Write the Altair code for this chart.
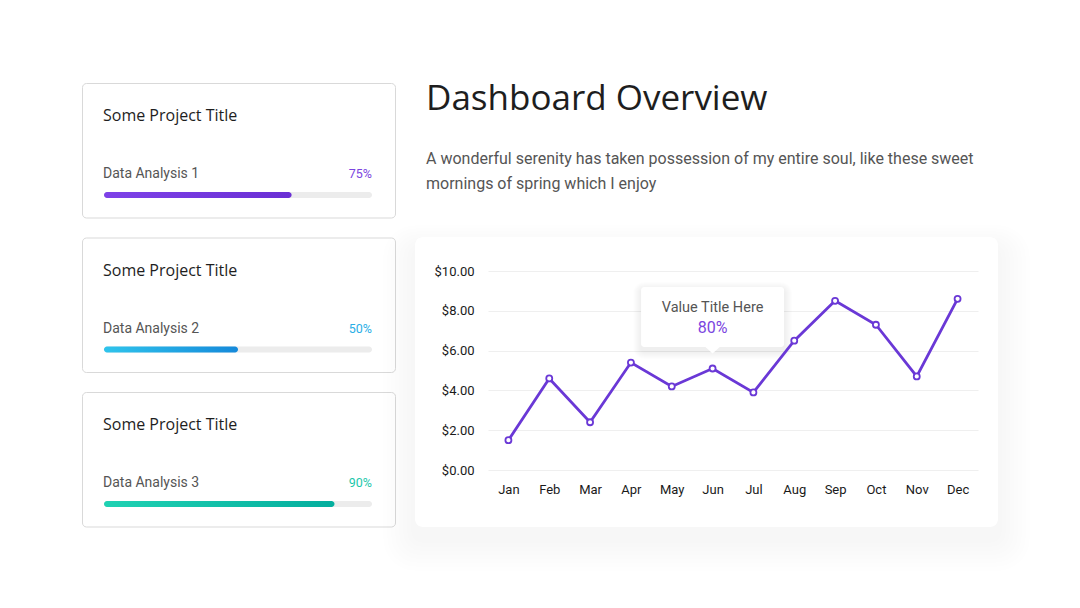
import altair as alt
import pandas as pd

# ---------------- data ----------------
months = ["Jan", "Feb", "Mar", "Apr", "May", "Jun", "Jul", "Aug", "Sep", "Oct", "Nov", "Dec"]
values = [1.5, 4.6, 2.4, 5.4, 4.2, 5.1, 3.9, 6.5, 8.5, 7.3, 4.7, 8.6]
y_tick_values = [0, 2, 4, 6, 8, 10]

card_titles = ["Some Project Title", "Some Project Title", "Some Project Title"]
card_labels = ["Data Analysis 1", "Data Analysis 2", "Data Analysis 3"]
card_pct_labels = ["75%", "50%", "90%"]
card_bar_values = [70, 50, 86]
card_text_colors = ["#7b45e0", "#2aaee6", "#1cc7ab"]
card_grad_start = ["#7e42e8", "#2fc4ec", "#20d2b3"]
card_grad_end = ["#6a2fd4", "#1589da", "#04ae9e"]

title_text = "Dashboard Overview"
subtitle_lines = [
    "A wonderful serenity has taken possession of my entire soul, like these sweet",
    "mornings of spring which I enjoy",
]
tooltip_month = ["Jun"]
tooltip_top = [9.2]
tooltip_bottom = [6.18]
tooltip_title = ["Value Title Here"]
tooltip_title_y = [7.92]
tooltip_value = ["80%"]
tooltip_value_y = [6.87]

PURPLE = "#6a38d6"
ONE = pd.DataFrame({"k": [0]})


def rect_value(x, x2, y, y2, **mk):
    return alt.Chart(ONE).mark_rect(**mk).encode(
        x=alt.value(x), x2=alt.value(x2), y=alt.value(y), y2=alt.value(y2)
    )


# ---------------- cards (one layered chart) ----------------
CARD_W, CARD_H, CARD_GAP = 314, 135.5, 19
xscale = alt.Scale(domain=[0, 100], range=[22, 290])


def card_layers(i):
    oy = i * (CARD_H + CARD_GAP)
    df = pd.DataFrame({
        "title": [card_titles[i]],
        "label": [card_labels[i]],
        "pct": [card_pct_labels[i]],
        "start": [0],
        "full": [100],
        "value": [card_bar_values[i]],
    })
    base = alt.Chart(df)
    box = rect_value(0.5, CARD_W - 0.5, oy + 0.5, oy + CARD_H - 0.5, fill="white",
                     stroke="#d9d9d9", strokeWidth=1, cornerRadius=4)
    title = base.mark_text(align="left", baseline="alphabetic", font="Open Sans",
                           fontSize=16, color="#1e1e1e").encode(
        x=alt.value(21), y=alt.value(oy + 38), text="title:N")
    label = base.mark_text(align="left", baseline="alphabetic", font="Roboto",
                           fontSize=14, color="#555555").encode(
        x=alt.value(21), y=alt.value(oy + 95), text="label:N")
    pct = base.mark_text(align="right", baseline="alphabetic", font="Roboto",
                         fontSize=12.5, color=card_text_colors[i]).encode(
        x=alt.value(290), y=alt.value(oy + 95), text="pct:N")
    track = base.mark_rect(color="#ececec", cornerRadius=3).encode(
        x=alt.X("start:Q", scale=xscale, axis=None), x2="full:Q",
        y=alt.value(oy + 109), y2=alt.value(oy + 115))
    grad = {
        "gradient": "linear", "x1": 0, "x2": 1, "y1": 0, "y2": 0,
        "stops": [{"offset": 0, "color": card_grad_start[i]},
                  {"offset": 1, "color": card_grad_end[i]}],
    }
    bar = base.mark_rect(cornerRadius=3, fill=grad).encode(
        x=alt.X("start:Q", scale=xscale, axis=None), x2="value:Q",
        y=alt.value(oy + 109), y2=alt.value(oy + 115))
    return [box, title, label, pct, track, bar]


backdrop = rect_value(-82, 998, -83, 525, fill="white")  # page extent
left_layers = [backdrop]
for i in range(3):
    left_layers += card_layers(i)
left = alt.layer(*left_layers).properties(
    width=CARD_W, height=3 * CARD_H + 2 * CARD_GAP)

# ---------------- header (above chart) ----------------
shadow = [
    rect_value(-73 - 4 * i, 510 + 4 * i, 154 - 3 * i + 12, 444 + 4 * i + 12,
               fill="black", opacity=0.0025, cornerRadius=8 + 3 * i)
    for i in range(1, 9)
]
panel = rect_value(-73, 510, 154, 444, fill="white", cornerRadius=8)
head_title = alt.Chart(ONE).mark_text(
    text=title_text, align="left", baseline="alphabetic", font="Open Sans",
    fontSize=35, color="#1e1e1e").encode(x=alt.value(-62), y=alt.value(27))
head_sub = alt.Chart(ONE).mark_text(
    text=subtitle_lines, align="left", baseline="alphabetic", font="Roboto",
    fontSize=16, lineHeight=25, color="#555555").encode(
    x=alt.value(-62), y=alt.value(81))
header = alt.layer(*shadow, panel, head_title, head_sub).properties(
    width=490, height=168)

# ---------------- line chart ----------------
df = pd.DataFrame({"month": months, "value": values})
tt = pd.DataFrame({
    "month": tooltip_month, "top": tooltip_top, "bottom": tooltip_bottom,
    "title": tooltip_title, "title_y": tooltip_title_y,
    "val": tooltip_value, "val_y": tooltip_value_y,
})

x_axis = alt.Axis(labelAngle=0, labelAlign="center", ticks=False, domain=False,
                  grid=False, labelFont="Roboto", labelFontSize=13,
                  labelColor="#1a1a1a", labelPadding=13, labelOverlap=False)
y_axis = alt.Axis(values=y_tick_values, format="$.2f", ticks=False, domain=False,
                  grid=True, gridColor="#efefef", labelFont="Roboto",
                  labelFontSize=13, labelColor="#1a1a1a", labelPadding=14,
                  labelAlign="right", labelOverlap=False)
x_scale = alt.Scale(type="point", domain=months, padding=0.5)
y_scale = alt.Scale(domain=[0, 10], nice=False)


def X(field):
    return alt.X(f"{field}:N", title="", scale=x_scale, axis=x_axis)


def Y(field):
    return alt.Y(f"{field}:Q", title="", scale=y_scale, axis=y_axis)


tt_base = alt.Chart(tt)
tt_shadow = [
    tt_base.mark_rect(fill="black", opacity=0.008, cornerRadius=3 + i,
                      xOffset=-71.5 - i, x2Offset=71.5 + i,
                      yOffset=-i + 3, y2Offset=i + 4).encode(
        x=X("month"), x2="month:N", y=Y("top"), y2="bottom:Q")
    for i in range(1, 9)
]
tt_box = tt_base.mark_rect(fill="white", cornerRadius=3,
                           xOffset=-71.5, x2Offset=71.5).encode(
    x=X("month"), x2="month:N", y=Y("top"), y2="bottom:Q")
tt_pointer = tt_base.mark_point(
    shape="M-1,-0.1 L1,-0.1 L0,0.8 Z", size=256, filled=True, fill="white",
    strokeWidth=0, opacity=1).encode(x=X("month"), y=Y("bottom"))
tt_title = tt_base.mark_text(
    font="Roboto", fontSize=14.5, color="#555555", baseline="alphabetic").encode(
    x=X("month"), y=Y("title_y"), text="title:N")
tt_value = tt_base.mark_text(
    font="Roboto", fontSize=16, color="#7b45e0", baseline="alphabetic").encode(
    x=X("month"), y=Y("val_y"), text="val:N")

line = alt.Chart(df).mark_line(color=PURPLE, strokeWidth=2.8).encode(
    x=X("month"), y=Y("value"))
pts = alt.Chart(df).mark_point(filled=True, fill="white", stroke=PURPLE,
                               strokeWidth=1.8, size=36, opacity=1).encode(
    x=X("month"), y=Y("value"))

linechart = alt.layer(*tt_shadow, tt_box, tt_pointer, line, pts, tt_title,
                      tt_value).properties(width=490, height=199)

right = alt.vconcat(header, linechart, spacing=20, bounds="flush")

chart = alt.hconcat(left, right, spacing=92, bounds="flush").properties(
    padding=0, background="white"
).configure_view(strokeWidth=0)

chart.save("out.html", embed_options={"renderer": "svg", "actions": False})
